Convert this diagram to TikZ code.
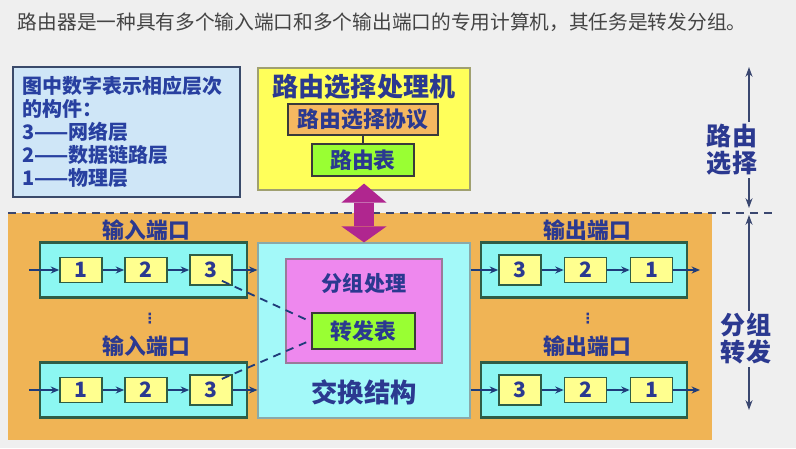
\documentclass[tikz,border=0pt]{standalone}
\usepackage{fontspec}
\setmainfont{Noto Sans CJK SC}
\newfontfamily\dotfont{DejaVu Sans}
\usepackage{tikz}
\usetikzlibrary{arrows.meta, positioning, calc}

\definecolor{bggray}{HTML}{EFEFEF}
\definecolor{titlegray}{HTML}{444444}
\definecolor{navy}{HTML}{2B3990}
\definecolor{keyfill}{HTML}{CFE6F7}
\definecolor{keyline}{HTML}{3A4A6A}
\definecolor{keytext}{HTML}{2840A0}
\definecolor{rspyellow}{HTML}{FFFF5A}
\definecolor{rspline}{HTML}{A0A070}
\definecolor{protoorange}{HTML}{F5B860}
\definecolor{darkline}{HTML}{3A3A3A}
\definecolor{tablegreen}{HTML}{99FF33}
\definecolor{ctrlmagenta}{HTML}{B0268F}
\definecolor{fwdorange}{HTML}{F0B455}
\definecolor{portcyan}{HTML}{8CF7F2}
\definecolor{portline}{HTML}{2E5E46}
\definecolor{layeryellow}{HTML}{FFFF8F}
\definecolor{fabriccyan}{HTML}{A3F9F9}
\definecolor{fabricline}{HTML}{8AA9A9}
\definecolor{pktviolet}{HTML}{EE88EE}
\definecolor{pktline}{HTML}{9A7A9A}
\definecolor{arrowblue}{HTML}{1F3C7A}
\definecolor{spanline}{HTML}{3A4770}

\begin{document}
\begin{tikzpicture}[x=0.025cm, y=-0.025cm,
    lbl/.style={font=\bfseries\fontsize{15.5}{17}\selectfont, text=navy, inner sep=1pt},
    key/.style={draw=keyline, line width=1.5pt, fill=keyfill, minimum width=5.675cm, minimum height=3.25cm, text width=5.2cm, align=left, font=\bfseries\fontsize{14.2}{16.4}\selectfont, text=keytext},
    port/.style={draw=portline, line width=2pt, fill=portcyan, minimum width=5.175cm, minimum height=1.375cm},
    layer/.style={draw=portline, line width=1.2pt, fill=layeryellow, minimum width=1.05cm, minimum height=0.625cm, inner sep=0pt, font=\bfseries\fontsize{15}{15}\selectfont, text=navy},
    netlayer/.style={layer, minimum height=0.75cm},
    tablebox/.style={draw=darkline, line width=1.2pt, fill=tablegreen, inner sep=1pt, font=\bfseries\fontsize{15.5}{17}\selectfont, text=navy},
    flow/.style={draw=arrowblue, line width=1.2pt, -{Stealth[length=6pt, width=5pt]}},
    span/.style={draw=spanline, line width=1pt, {Stealth[length=7pt, width=5pt]}-{Stealth[length=7pt, width=5pt]}},
    side/.style={fill=bggray, align=center, inner sep=2pt, font=\bfseries\fontsize{17.8}{19.2}\selectfont, text=navy},
    dots/.style={text=navy, font=\dotfont\bfseries\fontsize{10}{10}\selectfont, inner sep=0pt}
]

% Background and frame
\fill[bggray] (0,0) rectangle (796,448);
\useasboundingbox (0,0) rectangle (796,448);
\fill[fwdorange] (8,213) rectangle (712,440);
\draw[dashed, dash pattern=on 0.2cm off 0.15cm, spanline, line width=1.5pt] (8,213) -- (775,213);

\node[anchor=west, font=\fontsize{14}{16}\selectfont, text=titlegray] (title) at (13,22)
    {路由器是一种具有多个输入端口和多个输出端口的专用计算机，其任务是转发分组。};

% Legend
\node[key] (legend) at (126.5,132) {图中数字表示相应层次\\的构件：\\3——网络层\\2——数据链路层\\1——物理层};

% Routing processor
\node[draw=rspline, line width=0.8pt, fill=rspyellow, minimum width=5.3cm, minimum height=3.05cm] (rsp) at (364,129) {};
\node[font=\bfseries\fontsize{18.5}{20}\selectfont, text=navy, inner sep=1pt] (rsptitle) at (364,87) {路由选择处理机};
\node[tablebox, fill=protoorange, minimum width=3.75cm, minimum height=0.775cm] (proto) at (363,119.5) {路由选择协议};
\node[tablebox, minimum width=2.55cm, minimum height=0.8cm] (rtable) at (363,160) {路由表};
\draw[darkline, line width=0.8pt] (proto.south) -- (rtable.north);

% Switching fabric
\node[draw=fabricline, line width=0.8pt, fill=fabriccyan, minimum width=5.3cm, minimum height=4.375cm] (fabric) at (364,330.5) {};
\node[draw=pktline, line width=0.8pt, fill=pktviolet, minimum width=3.9cm, minimum height=2.6cm] (pkt) at (364,311) {};
\node[lbl, font=\bfseries\fontsize{15}{17}\selectfont] (pkttitle) at (364,283) {分组处理};
\node[tablebox, line width=1.5pt, minimum width=2.575cm, minimum height=0.9cm] (fwd) at (363.5,331) {转发表};
\node[lbl, font=\bfseries\fontsize{18.7}{20}\selectfont] (fabtitle) at (364,392) {交换结构};

% Control arrow
\draw[ctrlmagenta, line width=0.5cm, shorten <=-0.175cm,
    {Triangle[width=1.125cm, length=0.475cm, line width=0pt]}-{Triangle[width=1.125cm, length=0.4cm, line width=0pt]}]
    (rsp.south) -- (fabric.north);

% Input ports
\foreach \p/\y/\ly in {a/270/230, b/390/346} {
    \node[port] (inP\p) at (143.5,\y) {};
    \node[lbl] (inL\p) at (146.5,\ly) {输入端口};
    \node[layer] (in\p1) at (81,\y) {1};
    \node[layer] (in\p2) at (146,\y) {2};
    \node[netlayer] (in\p3) at (211,\y) {3};
    \coordinate (inS\p) at (29,\y);
    \draw[flow] (inS\p) -- (in\p1);
    \draw[flow] (in\p1) -- (in\p2);
    \draw[flow] (in\p2) -- (in\p3);
    \draw[flow] (in\p3) -- (fabric.west |- in\p3.east);
}
\node[dots] (inDots) at (150,319) {⋮};

% Output ports
\foreach \p/\y/\ly in {a/270/230, b/390/346} {
    \node[port, minimum width=5.15cm] (outP\p) at (584,\y) {};
    \node[lbl] (outL\p) at (587.5,\ly) {输出端口};
    \node[netlayer] (out\p3) at (520,\y) {3};
    \node[layer] (out\p2) at (585.5,\y) {2};
    \node[layer] (out\p1) at (651.5,\y) {1};
    \coordinate (outE\p) at (700,\y);
    \draw[flow] (fabric.east |- out\p3.west) -- (out\p3);
    \draw[flow] (out\p3) -- (out\p2);
    \draw[flow] (out\p2) -- (out\p1);
    \draw[flow] (out\p1) -- (outE\p);
}
\node[dots] (outDots) at (588,319) {⋮};

% Lookup lines
\draw[arrowblue, line width=1.3pt, dash pattern=on 0.2cm off 0.15cm, shorten <=-0.3cm] (ina3.south east) -- (fwd.170);
\draw[arrowblue, line width=1.3pt, dash pattern=on 0.2cm off 0.15cm, shorten <=-0.3cm] (inb3.north east) -- (fwd.190);

% Side spans
\coordinate (rsTop) at (749,67);
\coordinate (rsBot) at (749,208);
\coordinate (pfTop) at (749,215);
\coordinate (pfBot) at (749,410);
\draw[span] (rsTop) -- (rsBot);
\draw[span] (pfTop) -- (pfBot);
\node[side] (rsLabel) at (732,150) {路由\\选择};
\node[side] (pfLabel) at (746,339) {分组\\转发};

\end{tikzpicture}
\end{document}
